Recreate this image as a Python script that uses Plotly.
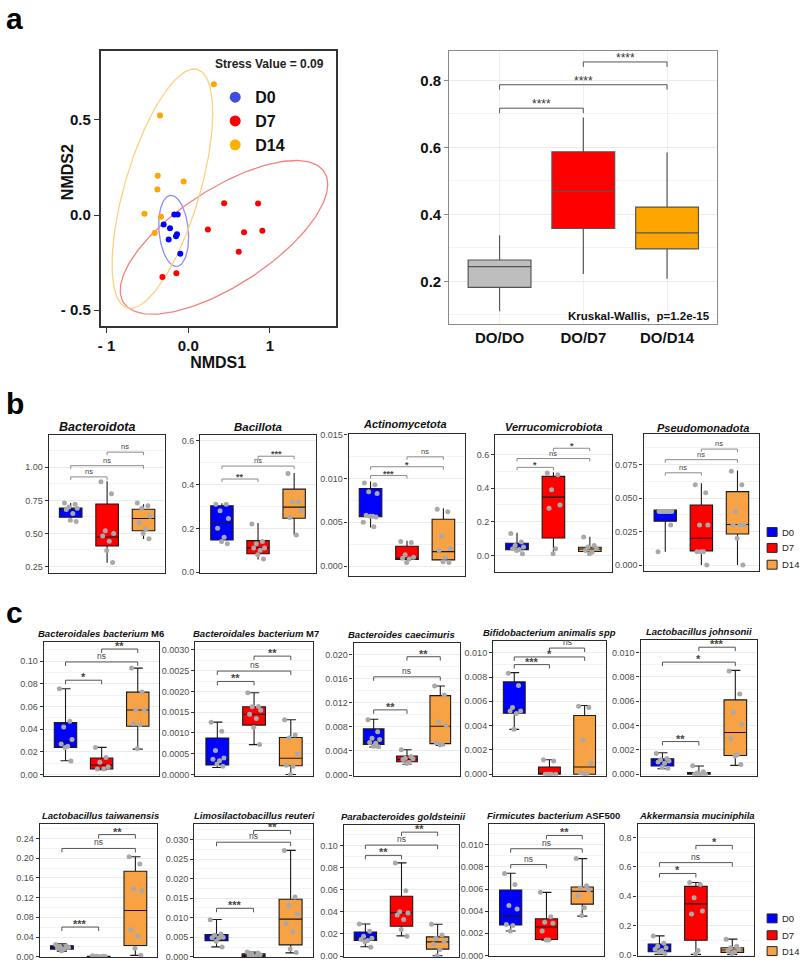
import numpy as np
import plotly.graph_objects as go

W, H = 800, 967
GROUPS = ["D0", "D7", "D14"]
PAIRS = [(0, 1), (0, 2), (1, 2)]

# ------------------------------------------------------------------ data
# Panel a (left): NMDS ordination
nmds_d0_x = [-0.171, -0.130, -0.301, -0.224, -0.240, -0.138, -0.150, -0.098]
nmds_d0_y = [0.003, 0.003, -0.049, -0.069, -0.128, -0.101, -0.111, -0.203]
nmds_d7_x = [0.439, 0.854, 0.240, 0.683, 0.907, 0.618, -0.317, -0.146]
nmds_d7_y = [0.062, 0.061, -0.076, -0.090, -0.083, -0.193, -0.326, -0.306]
nmds_d14_x = [0.313, -0.346, -0.374, -0.057, -0.378, -0.537, -0.333, -0.411]
nmds_d14_y = [0.688, 0.524, 0.207, 0.177, 0.135, 0.007, -0.009, -0.094]
# ellipse: centre x, centre y, half-range x, half-range y, correlation
ellipse_d0 = [-0.179, -0.083, 0.183, 0.187, -0.18]
ellipse_d7 = [0.437, -0.117, 1.270, 0.404, 0.690]
ellipse_d14 = [-0.317, 0.139, 0.616, 0.629, 0.633]
nmds_xtickvals = [-1, 0, 1]
nmds_xticktext = ["- 1", "0.0", "1"]
nmds_ytickvals = [-0.5, 0, 0.5]
nmds_yticktext = ["- 0.5", "0.0", "0.5"]
stress_text = "Stress Value = 0.09"

# Panel a (right): distance box plot  [lower, q1, median, q3, upper]
dist_labels = ["DO/DO", "DO/D7", "DO/D14"]
dist_stats = [[0.111, 0.182, 0.244, 0.264, 0.338],
              [0.222, 0.358, 0.469, 0.587, 0.689],
              [0.208, 0.297, 0.345, 0.422, 0.585]]
dist_sig_y = [0.717, 0.787, 0.855]
dist_sig_lab = ["****", "****", "****"]
kw_text = "Kruskal-Wallis,  p=1.2e-15"

# Panel b: phyla  (stats per group: [lower, q1, median, q3, upper])
bacteroidota_stats = [[0.59, 0.6225, 0.685, 0.6925, 0.73], [0.2775, 0.405, 0.4725, 0.7225, 0.895], [0.4575, 0.52, 0.6125, 0.6825, 0.72]]
bacteroidota_pts = [[0.73, 0.72, 0.70, 0.69, 0.68, 0.65, 0.60, 0.59], [0.89, 0.80, 0.52, 0.50, 0.48, 0.44, 0.37, 0.28], [0.73, 0.71, 0.69, 0.63, 0.58, 0.53, 0.50, 0.46]]
bacteroidota_sig_y = [0.9275, 1.0125, 1.115]
bacteroidota_sig = ["ns", "ns", "ns"]

bacillota_stats = [[0.130, 0.147, 0.222, 0.303, 0.315], [0.058, 0.084, 0.111, 0.144, 0.225], [0.169, 0.246, 0.297, 0.379, 0.452]]
bacillota_pts = [[0.31, 0.31, 0.28, 0.245, 0.20, 0.16, 0.14, 0.13], [0.22, 0.14, 0.13, 0.11, 0.11, 0.10, 0.08, 0.06], [0.45, 0.32, 0.32, 0.28, 0.25, 0.17]]
bacillota_sig_y = [0.425, 0.484, 0.529]
bacillota_sig = ["**", "ns", "***"]

actino_stats = [[0.0044, 0.00564, 0.0058, 0.00887, 0.00966], [0.00026, 0.00075, 0.0009, 0.00226, 0.0029], [0.0004, 0.0007, 0.00165, 0.00534, 0.0066]]
actino_pts = [[0.0095, 0.0093, 0.0085, 0.0083, 0.0058, 0.0057, 0.0057, 0.0056, 0.0050, 0.0045], [0.0028, 0.0027, 0.0013, 0.0010, 0.0009, 0.0008, 0.0004], [0.0065, 0.0062, 0.0034, 0.0020, 0.0018, 0.0010, 0.0005, 0.0004]]
actino_sig_y = [0.01034, 0.01135, 0.01248]
actino_sig = ["***", "*", "ns"]

verruco_stats = [[0.02, 0.035, 0.055, 0.0725, 0.135], [0.012, 0.104, 0.347, 0.47, 0.494], [0.012, 0.0235, 0.039, 0.049, 0.112]]
verruco_pts = [[0.13, 0.08, 0.06, 0.05, 0.04, 0.035, 0.03, 0.01], [0.49, 0.48, 0.39, 0.30, 0.28, 0.04, 0.01], [0.11, 0.06, 0.05, 0.04, 0.03, 0.02, 0.01]]
verruco_sig_y = [0.5235, 0.576, 0.637]
verruco_sig = ["*", "ns", "*"]

pseudo_stats = [[0.01, 0.0328, 0.040, 0.041, 0.041], [0.0, 0.0106, 0.020, 0.0449, 0.061], [0.0, 0.0232, 0.0303, 0.0548, 0.0706]]
pseudo_pts = [[0.04, 0.04, 0.04, 0.04, 0.04, 0.04, 0.04, 0.03, 0.01], [0.06, 0.054, 0.03, 0.03, 0.01, 0.01, 0.01, 0.0], [0.07, 0.06, 0.04, 0.03, 0.03, 0.03, 0.02, 0.0]]
pseudo_sig_y = [0.0689, 0.0787, 0.0866]
pseudo_sig = ["ns", "ns", "ns"]

# Panel c: species
m6_stats = [[0.0123, 0.024, 0.029, 0.0459, 0.0757], [0.0044, 0.005, 0.0085, 0.0146, 0.024], [0.0225, 0.0427, 0.057, 0.0728, 0.094]]
m6_pts = [[0.0757, 0.047, 0.042, 0.031, 0.027, 0.025, 0.024, 0.012], [0.024, 0.015, 0.011, 0.007, 0.005, 0.005], [0.094, 0.073, 0.057, 0.057, 0.045, 0.044, 0.023]]
m6_sig_y = [0.0833, 0.0994, 0.1108]
m6_sig = ["*", "ns", "**"]

m7_stats = [[0.00017, 0.00023, 0.00035, 0.00088, 0.00126], [0.00072, 0.00119, 0.00145, 0.00163, 0.00197], [0.0, 0.00021, 0.00039, 0.00089, 0.00132]]
m7_pts = [[0.00126, 0.00104, 0.00058, 0.0004, 0.00037, 0.00033, 0.00025, 0.0002], [0.00197, 0.00164, 0.00163, 0.00155, 0.00145, 0.00135, 0.00113, 0.00072], [0.00132, 0.00095, 0.00088, 0.0005, 0.00022, 0.0002, 0.0]]
m7_sig_y = [0.00224, 0.00249, 0.00285]
m7_sig = ["**", "ns", "**"]

caec_stats = [[0.00467, 0.0051, 0.00567, 0.00767, 0.00928], [0.0018, 0.0022, 0.0026, 0.00317, 0.0042], [0.0049, 0.00522, 0.0081, 0.0132, 0.0148]]
caec_pts = [[0.0092, 0.0072, 0.0061, 0.0059, 0.0054, 0.0053, 0.0048, 0.0047], [0.0042, 0.0031, 0.0028, 0.0027, 0.0026, 0.0021, 0.0019], [0.0148, 0.0133, 0.0088, 0.0082, 0.0054, 0.0051, 0.0050]]
caec_sig_y = [0.01083, 0.01633, 0.01967]
caec_sig = ["**", "ns", "**"]

bifido_stats = [[0.00369, 0.00503, 0.00533, 0.0076, 0.00836], [0.0, 0.0, 0.0, 0.0006, 0.0012], [0.0, 0.0, 0.0006, 0.00484, 0.00566]]
bifido_pts = [[0.0083, 0.0073, 0.0055, 0.0052, 0.0052, 0.0050, 0.0037], [0.0012, 0.0011, 0.0, 0.0, 0.0, 0.0, 0.0], [0.0056, 0.0055, 0.0028, 0.0009, 0.0001, 0.0, 0.0]]
bifido_sig_y = [0.00902, 0.00965, 0.01038]
bifido_sig = ["***", "*", "ns"]

johns_stats = [[0.00046, 0.00068, 0.00109, 0.00128, 0.00177], [0.0, 0.0, 0.0, 0.00014, 0.00068], [0.00073, 0.00155, 0.00343, 0.00612, 0.00854]]
johns_pts = [[0.0017, 0.0013, 0.0012, 0.0011, 0.0010, 0.0009, 0.0006, 0.0005], [0.0007, 0.0002, 0.0001, 0.0, 0.0, 0.0, 0.0], [0.0085, 0.0066, 0.0051, 0.0041, 0.0029, 0.0016, 0.0015, 0.0008]]
johns_sig_y = [0.00269, 0.00922, 0.01045]
johns_sig = ["**", "*", "***"]

taiw_stats = [[0.0115, 0.0155, 0.0189, 0.0222, 0.0262], [0.0, 0.0, 0.0005, 0.001, 0.002], [0.0027, 0.0228, 0.0938, 0.1735, 0.203]]
taiw_pts = [[0.025, 0.022, 0.021, 0.019, 0.018, 0.016, 0.012], [0.002, 0.001, 0.001, 0.0005, 0.0, 0.0, 0.0], [0.203, 0.188, 0.138, 0.134, 0.055, 0.042, 0.017, 0.003]]
taiw_sig_y = [0.0603, 0.2198, 0.2479]
taiw_sig = ["***", "ns", "**"]

reut_stats = [[0.00253, 0.00414, 0.00498, 0.00566, 0.00954], [0.0, 0.0001, 0.0004, 0.0008, 0.0012], [0.001, 0.00304, 0.00963, 0.0147, 0.0272]]
reut_pts = [[0.0095, 0.0058, 0.0055, 0.0050, 0.0049, 0.0048, 0.0040, 0.0025], [0.0012, 0.0010, 0.0008, 0.0005, 0.0003, 0.0001, 0.0], [0.0272, 0.0153, 0.0132, 0.0109, 0.0085, 0.0065, 0.0020, 0.0011]]
reut_sig_y = [0.0124, 0.0293, 0.0323]
reut_sig = ["***", "ns", "**"]

gold_stats = [[0.0084, 0.014, 0.0164, 0.0218, 0.029], [0.0182, 0.0269, 0.0391, 0.054, 0.0842], [0.0003, 0.0063, 0.0128, 0.0173, 0.0287]]
gold_pts = [[0.029, 0.0225, 0.018, 0.016, 0.015, 0.014, 0.013, 0.008], [0.0842, 0.059, 0.040, 0.039, 0.037, 0.033, 0.024, 0.018], [0.0287, 0.019, 0.016, 0.013, 0.011, 0.006, 0.0003]]
gold_sig_y = [0.091, 0.1003, 0.112]
gold_sig = ["**", "ns", "**"]

asf_stats = [[0.00221, 0.00275, 0.00355, 0.00591, 0.00743], [0.00137, 0.00143, 0.00257, 0.00331, 0.0057], [0.00355, 0.00463, 0.00579, 0.00618, 0.00875]]
asf_pts = [[0.0074, 0.0064, 0.0045, 0.0042, 0.0028, 0.0027, 0.0022], [0.0057, 0.0035, 0.0030, 0.0029, 0.0022, 0.0014, 0.0014], [0.00875, 0.0063, 0.0061, 0.0059, 0.0054, 0.0043, 0.0036]]
asf_sig_y = [0.00821, 0.00964, 0.01084]
asf_sig = ["ns", "ns", "**"]

akk_stats = [[0.0045, 0.0225, 0.04, 0.074, 0.13], [0.0045, 0.101, 0.348, 0.467, 0.494], [0.0045, 0.018, 0.034, 0.049, 0.108]]
akk_pts = [[0.13, 0.08, 0.06, 0.05, 0.04, 0.03, 0.02, 0.01], [0.494, 0.48, 0.39, 0.30, 0.28, 0.03, 0.005], [0.108, 0.06, 0.05, 0.04, 0.03, 0.02, 0.01]]
akk_sig_y = [0.555, 0.629, 0.746]
akk_sig = ["*", "ns", "*"]

# ------------------------------------------------------------------ style
SANS = "Liberation Sans, Arial, sans-serif"
NMDS_COLORS = ["#0000FF", "#FF0000", "#FFA500"]
NMDS_LEG_COLORS = ["#3F4FD8", "#FF0000", "#FFB000"]
ELL_COLORS = ["#8C8CFF", "#F58080", "#FFCF80"]
DIST_COLORS = ["#BEBEBE", "#FF0000", "#FFA500"]
BC_COLORS = ["#0000FF", "#FF0000", "#F7A245"]
JIT = [-0.17, 0.12, -0.05, 0.18, -0.12, 0.06, -0.01, 0.15, -0.20, 0.09]

fig = go.Figure()
layout = {}
annotations = []
shapes = []


def axnames(i):
    if i == 1:
        return "x", "y", "xaxis", "yaxis"
    return f"x{i}", f"y{i}", f"xaxis{i}", f"yaxis{i}"


def xdom(x0, x1):
    return [x0 / W, x1 / W]


def ydom(y0, y1):
    return [1 - y1 / H, 1 - y0 / H]


# ------------------------------------------------------------------ NMDS
xa, ya, xk, yk = axnames(1)
layout[xk] = dict(domain=xdom(98, 334), anchor=ya, range=[-1.073, 1.805],
                  tickvals=nmds_xtickvals, ticktext=nmds_xticktext,
                  ticks="outside", ticklen=5, tickcolor="#333", showgrid=False, zeroline=False,
                  showline=True, mirror=True, linecolor="#333", linewidth=1.5,
                  tickfont=dict(family=SANS, size=15, color="#111", weight="bold"),
                  title=dict(text="<b>NMDS1</b>", font=dict(family=SANS, size=16, color="#111"), standoff=4))
layout[yk] = dict(domain=ydom(47, 325), anchor=xa, range=[-0.583, 0.865],
                  tickvals=nmds_ytickvals, ticktext=nmds_yticktext,
                  ticks="outside", ticklen=5, tickcolor="#333", showgrid=False, zeroline=False,
                  showline=True, mirror=True, linecolor="#333", linewidth=1.5,
                  tickfont=dict(family=SANS, size=15, color="#111", weight="bold"))
annotations.append(dict(xref="paper", yref="paper", x=65 / W, y=1 - 170 / H, xanchor="center", yanchor="middle",
                        text="<b>NMDS2</b>", textangle=-90, showarrow=False,
                        font=dict(family=SANS, size=16, color="#111")))

t = np.linspace(0, 2 * np.pi, 200)
for g, ell in enumerate([ellipse_d0, ellipse_d7, ellipse_d14]):
    cx, cy, rx, ry, rho = ell
    d = np.arccos(rho)
    fig.add_trace(go.Scatter(x=cx + rx * np.cos(t), y=cy + ry * np.cos(t + d), mode="lines",
                             line=dict(color=ELL_COLORS[g], width=1.3), xaxis=xa, yaxis=ya,
                             showlegend=False, hoverinfo="skip"))
for g, (px, py) in enumerate([(nmds_d0_x, nmds_d0_y), (nmds_d7_x, nmds_d7_y), (nmds_d14_x, nmds_d14_y)]):
    fig.add_trace(go.Scatter(x=px, y=py, mode="markers", marker=dict(color=NMDS_COLORS[g], size=6),
                             xaxis=xa, yaxis=ya, showlegend=False, hoverinfo="skip"))
    fig.add_trace(go.Scatter(x=[None], y=[None], mode="markers", name=GROUPS[g],
                             marker=dict(color=NMDS_LEG_COLORS[g], size=11),
                             xaxis=xa, yaxis=ya, showlegend=True, legend="legend"))
annotations.append(dict(xref="paper", yref="paper", x=324 / W, y=1 - 61 / H, xanchor="right", yanchor="middle",
                        text=f"<b>{stress_text}</b>", showarrow=False,
                        font=dict(family=SANS, size=12, color="#222")))

# ------------------------------------------------------------------ distance box plot
xa, ya, xk, yk = axnames(2)
layout[xk] = dict(domain=xdom(448, 717), anchor=ya, range=[-0.6, 2.6],
                  tickvals=[0, 1, 2], ticktext=dist_labels, ticks="", showgrid=True, gridcolor="#F0F0F0",
                  zeroline=False, showline=True, mirror=True, linecolor="#8A8A8A", linewidth=1.2,
                  tickfont=dict(family=SANS, size=15, color="#111", weight="bold"))
layout[yk] = dict(domain=ydom(47, 323), anchor=xa, range=[0.073, 0.889], dtick=0.2, tick0=0,
                  tickformat=".1f", ticks="outside", ticklen=4, tickcolor="#888",
                  showgrid=True, gridcolor="#EBEBEB",
                  minor=dict(dtick=0.1, tick0=0, showgrid=True, gridcolor="#F3F3F3", ticks=""),
                  zeroline=False, showline=True, mirror=True, linecolor="#8A8A8A", linewidth=1.2,
                  tickfont=dict(family=SANS, size=15, color="#111", weight="bold"))
for g in range(3):
    s = dist_stats[g]
    fig.add_trace(go.Box(x=[g], q1=[s[1]], median=[s[2]], q3=[s[3]], lowerfence=[s[0]], upperfence=[s[4]],
                         width=0.75, fillcolor=DIST_COLORS[g], line=dict(color="#555555", width=1.2),
                         whiskerwidth=0, xaxis=xa, yaxis=ya, showlegend=False, hoverinfo="skip"))
span = 0.889 - 0.073
drop = 5 * span / (323 - 47)
for (i, j), yb, lab in zip(PAIRS, dist_sig_y, dist_sig_lab):
    fig.add_trace(go.Scatter(x=[i, i, j, j], y=[yb - drop, yb, yb, yb - drop], mode="lines",
                             line=dict(color="#555", width=1), xaxis=xa, yaxis=ya,
                             showlegend=False, hoverinfo="skip"))
    annotations.append(dict(xref=xa, yref=ya, x=(i + j) / 2, y=yb, yanchor="bottom", yshift=-5,
                            text=lab, showarrow=False, font=dict(family=SANS, size=12, color="#333")))
annotations.append(dict(xref="paper", yref="paper", x=712 / W, y=1 - 315 / H, xanchor="right", yanchor="middle",
                        text=f"<b>{kw_text}</b>", showarrow=False,
                        font=dict(family=SANS, size=11.5, color="#111")))

# ------------------------------------------------------------------ box panels b & c
panels_b = [
    ("<i>Bacteroidota</i>", bacteroidota_stats, bacteroidota_pts, bacteroidota_sig_y, bacteroidota_sig),
    ("<i>Bacillota</i>", bacillota_stats, bacillota_pts, bacillota_sig_y, bacillota_sig),
    ("<i>Actinomycetota</i>", actino_stats, actino_pts, actino_sig_y, actino_sig),
    ("<i>Verrucomicrobiota</i>", verruco_stats, verruco_pts, verruco_sig_y, verruco_sig),
    ("<i>Pseudomonadota</i>", pseudo_stats, pseudo_pts, pseudo_sig_y, pseudo_sig),
]
panels_c = [
    ("<i>Bacteroidales bacterium</i> M6", m6_stats, m6_pts, m6_sig_y, m6_sig),
    ("<i>Bacteroidales bacterium</i> M7", m7_stats, m7_pts, m7_sig_y, m7_sig),
    ("<i>Bacteroides caecimuris</i>", caec_stats, caec_pts, caec_sig_y, caec_sig),
    ("<i>Bifidobacterium animalis spp</i>", bifido_stats, bifido_pts, bifido_sig_y, bifido_sig),
    ("<i>Lactobacillus johnsonii</i>", johns_stats, johns_pts, johns_sig_y, johns_sig),
    ("<i>Lactobacillus taiwanensis</i>", taiw_stats, taiw_pts, taiw_sig_y, taiw_sig),
    ("<i>Limosilactobacillus reuteri</i>", reut_stats, reut_pts, reut_sig_y, reut_sig),
    ("<i>Parabacteroides goldsteinii</i>", gold_stats, gold_pts, gold_sig_y, gold_sig),
    ("<i>Firmicutes bacterium</i> ASF500", asf_stats, asf_pts, asf_sig_y, asf_sig),
    ("<i>Akkermansia muciniphila</i>", akk_stats, akk_pts, akk_sig_y, akk_sig),
]
# layout per panel: frame (x0, y0, x1, y1), y range, dtick, tickformat, title centre (x, y), title size
layout_b = [
    ((46, 435, 163, 574), [0.203, 1.245], 0.25, ".2f", (94, 427), 12.5),
    ((198, 435, 314, 574), [-0.002, 0.626], 0.2, ".1f", (256, 427), 11.5),
    ((347, 434, 464, 577), [-0.0011, 0.0151], 0.005, ".3f", (404, 424), 11),
    ((494, 435, 611, 573), [-0.096, 0.716], 0.2, ".1f", (553, 427), 11),
    ((643, 434, 759, 572), [-0.0042, 0.0979], 0.025, ".3f", (703, 428), 11),
]
layout_c = [
    ((41, 644, 157, 779), [-0.001, 0.117], 0.02, ".2f", (98, 635), 9.5),
    ((193, 644, 311, 779), [-0.00003, 0.00319], 0.0005, ".4f", (254, 635), 9.5),
    ((352, 645, 459, 779), [-0.00012, 0.02195], 0.004, ".3f", (400, 636), 9.5),
    ((492, 643, 605, 779), [-0.00012, 0.01096], 0.002, ".3f", (549, 634), 9.5),
    ((640, 642, 757, 779), [-0.00012, 0.01104], 0.002, ".3f", (699, 633), 9.5),
    ((37, 828, 155, 962), [-0.0006, 0.2688], 0.04, ".2f", (98, 819), 9.5),
    ((192, 828, 311, 962), [-0.00006, 0.03388], 0.005, ".3f", (252, 819), 9.5),
    ((342, 829, 458, 962), [-0.0009, 0.1182], 0.02, ".2f", (402, 820), 9.5),
    ((488, 828, 603, 961), [-0.00006, 0.01185], 0.002, ".3f", (553, 819), 9.5),
    ((637, 828, 754, 961), [-0.007, 0.8897], 0.2, ".1f", (697, 819), 9.5),
]
style_b = dict(tick=9, cap=0.0, pt=5, sig_star=9, sig_ns=7.5, sig_col="#8A8A8A", drop=3)
style_c = dict(tick=9, cap=0.45, pt=5, sig_star=11, sig_ns=8.5, sig_col="#555555", drop=4)


def add_box_panel(i, panel, lay, st):
    title, stats, pts, sig_y, sig_lab = panel
    (x0, y0, x1, y1), yr, dtick, fmt, (tx, ty), tsize = lay
    xa, ya, xk, yk = axnames(i)
    layout[xk] = dict(domain=xdom(x0, x1), anchor=ya, range=[0.4, 3.6], showticklabels=False, ticks="",
                      showgrid=False, zeroline=False, showline=True, mirror=True,
                      linecolor="#2A2A2A", linewidth=1.4)
    layout[yk] = dict(domain=ydom(y0, y1), anchor=xa, range=yr, dtick=dtick, tick0=0, tickformat=fmt,
                      ticks="outside", ticklen=3, tickcolor="#333",
                      tickfont=dict(family=SANS, size=st["tick"], color="#4D4D4D"),
                      showgrid=True, gridcolor="#EBEBEB",
                      minor=dict(dtick=dtick / 2, tick0=0, showgrid=True, gridcolor="#F3F3F3", ticks=""),
                      zeroline=False, showline=True, mirror=True, linecolor="#2A2A2A", linewidth=1.4)
    for g in range(3):
        s = stats[g]
        fig.add_trace(go.Box(x=[g + 1], q1=[s[1]], median=[s[2]], q3=[s[3]], lowerfence=[s[0]],
                             upperfence=[s[4]], width=0.62, fillcolor=BC_COLORS[g],
                             line=dict(color="#1A1A1A", width=1.1), whiskerwidth=st["cap"],
                             xaxis=xa, yaxis=ya, name=GROUPS[g], hoverinfo="skip", showlegend=False))
    for g in range(3):
        p = pts[g]
        fig.add_trace(go.Scatter(x=[g + 1 + JIT[k % len(JIT)] for k in range(len(p))], y=p, mode="markers",
                                 marker=dict(color="#A9A9A9", size=st["pt"]), xaxis=xa, yaxis=ya,
                                 showlegend=False, hoverinfo="skip"))
    drop = st["drop"] * (yr[1] - yr[0]) / (y1 - y0)
    for (a, b), yb, lab in zip(PAIRS, sig_y, sig_lab):
        fig.add_trace(go.Scatter(x=[a + 1, a + 1, b + 1, b + 1], y=[yb - drop, yb, yb, yb - drop], mode="lines",
                                 line=dict(color=st["sig_col"], width=1), xaxis=xa, yaxis=ya,
                                 showlegend=False, hoverinfo="skip"))
        is_ns = lab == "ns"
        annotations.append(dict(xref=xa, yref=ya, x=(a + b + 2) / 2, y=yb, yanchor="bottom",
                                yshift=-1 if is_ns else -5, text=lab if is_ns else f"<b>{lab}</b>",
                                showarrow=False,
                                font=dict(family=SANS, size=st["sig_ns"] if is_ns else st["sig_star"],
                                          color="#444")))
    annotations.append(dict(xref="paper", yref="paper", x=tx / W, y=1 - ty / H, xanchor="center",
                            yanchor="middle", text=f"<b>{title}</b>", showarrow=False,
                            font=dict(family=SANS, size=tsize, color="#111")))


idx = 3
for pan, lay in zip(panels_b, layout_b):
    add_box_panel(idx, pan, lay, style_b)
    idx += 1
for pan, lay in zip(panels_c, layout_c):
    add_box_panel(idx, pan, lay, style_c)
    idx += 1

# group keys for panels b and c (square swatches + labels)
for row_y in ([533, 549, 566], [923, 940, 956]):
    for g, yy in enumerate(row_y):
        shapes.append(dict(type="rect", xref="paper", yref="paper", x0=767 / W, x1=777 / W,
                           y0=1 - (yy + 4.5) / H, y1=1 - (yy - 4.5) / H,
                           fillcolor=BC_COLORS[g], line=dict(color="#222", width=1)))
        annotations.append(dict(xref="paper", yref="paper", x=780 / W, y=1 - yy / H, xanchor="left",
                                yanchor="middle", text=GROUPS[g], showarrow=False,
                                font=dict(family=SANS, size=9.5, color="#222")))

# panel letters
for lab, yy in [("a", 15), ("b", 403), ("c", 614)]:
    annotations.append(dict(xref="paper", yref="paper", x=1 / W, y=1 - yy / H, xanchor="left", yanchor="middle",
                            text=f"<b>{lab}</b>", showarrow=False,
                            font=dict(family=SANS, size=30, color="#000")))

fig.update_layout(
    width=W, height=H, margin=dict(l=0, r=0, t=0, b=0),
    paper_bgcolor="white", plot_bgcolor="white", boxmode="overlay",
    annotations=annotations, shapes=shapes,
    legend=dict(x=213 / W, y=1 - 77 / H, xanchor="left", yanchor="top", bgcolor="rgba(0,0,0,0)",
                font=dict(family=SANS, size=16, color="#111", weight="bold"), tracegroupgap=0,
                itemwidth=30),
    **layout,
)
fig.write_html("out.html",
               post_script="document.documentElement.style.margin='0';document.body.style.margin='0';"
                           "document.body.style.overflow='hidden';document.documentElement.style.overflow='hidden';")
